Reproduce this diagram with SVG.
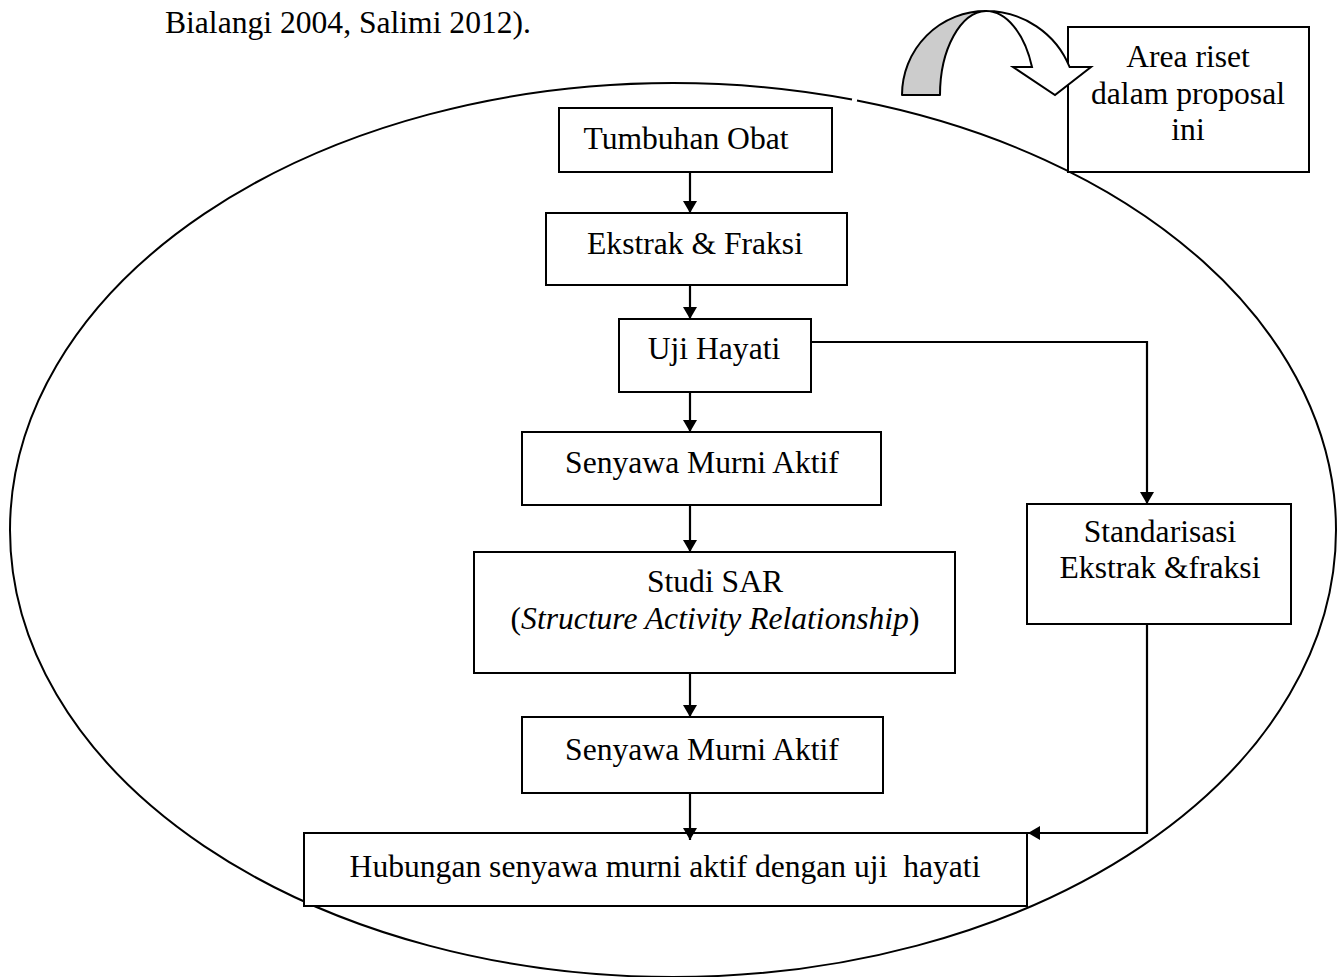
<svg xmlns="http://www.w3.org/2000/svg" width="1337" height="977" viewBox="0 0 1337 977">
<style>
text{font-family:"Liberation Serif","Times New Roman",serif;font-size:31.6px;fill:#000}
.c{text-anchor:middle}
.box{fill:#fff;stroke:#000;stroke-width:2}
.ln{fill:none;stroke:#000;stroke-width:2}
.cn{fill:none;stroke:#000;stroke-width:2.2;marker-end:url(#ah)}
</style>
<defs>
<marker id="ah" viewBox="0 0 12 14" refX="12" refY="7" markerWidth="12" markerHeight="14" orient="auto" markerUnits="userSpaceOnUse">
<path d="M0,0 L12,7 L0,14 Z" fill="#000"/>
</marker>
</defs>
<rect width="1337" height="977" fill="#fff"/>
<text x="165" y="33">Bialangi 2004, Salimi 2012).</text>
<g id="ellipse">
<path class="ln" d="M857 100.56 A663 447 0 0 1 1336 530 A663 447 0 0 1 673 977 A663 447 0 0 1 10 530 A663 447 0 0 1 673 83 A663 447 0 0 1 852 99.6"/>
</g>
<g id="area-riset">
<rect class="box" x="1068" y="27" width="241" height="145"/>
<text class="c" x="1188" y="67">Area riset</text>
<text class="c" x="1188" y="104">dalam proposal</text>
<text class="c" x="1188" y="140">ini</text>
</g>
<g id="curved-arrow">
<path d="M902 95 A84 84 0 0 1 986 11 A47 84 0 0 0 940 95 Z" fill="#cccccc" stroke="#000" stroke-width="2" stroke-linejoin="round"/>
<path d="M986 11 A90 89 0 0 1 1069.6 67 L1091 67 L1055 95 L1013 67 L1032 67 A49.5 89 0 0 0 986 11 Z" fill="#fff" stroke="#000" stroke-width="2" stroke-linejoin="miter"/>
</g>
<g id="connectors">
<path class="cn" d="M690 172 V213"/>
<path class="cn" d="M690 278 V319"/>
<path class="cn" d="M690 385 V432"/>
<path class="cn" d="M690 505 V552"/>
<path class="cn" d="M690 673 V717"/>
<path class="cn" d="M811 342 H1147 V504"/>
<path class="cn" d="M1147 617 V833 H1028"/>
</g>
<g id="tumbuhan-obat">
<rect class="box" x="559" y="108" width="273" height="64"/>
<text class="c" x="686" y="149">Tumbuhan Obat</text>
</g>
<g id="ekstrak-fraksi">
<rect class="box" x="546" y="213" width="301" height="72"/>
<text class="c" x="695" y="254">Ekstrak &amp; Fraksi</text>
</g>
<g id="uji-hayati">
<rect class="box" x="619" y="319" width="192" height="73"/>
<text class="c" x="714" y="359">Uji Hayati</text>
</g>
<g id="senyawa-1">
<rect class="box" x="522" y="432" width="359" height="73"/>
<text class="c" x="702" y="473">Senyawa Murni Aktif</text>
</g>
<g id="studi-sar">
<rect class="box" x="474" y="552" width="481" height="121"/>
<text class="c" x="715" y="592">Studi SAR</text>
<text class="c" x="715" y="629">(<tspan font-style="italic">Structure Activity Relationship</tspan>)</text>
</g>
<g id="senyawa-2">
<rect class="box" x="522" y="717" width="361" height="76"/>
<text class="c" x="702" y="760">Senyawa Murni Aktif</text>
</g>
<g id="standarisasi">
<rect class="box" x="1027" y="504" width="264" height="120"/>
<text class="c" x="1160" y="542">Standarisasi</text>
<text class="c" x="1160" y="578">Ekstrak &amp;fraksi</text>
</g>
<g id="hubungan">
<rect class="box" x="304" y="833" width="723" height="73"/>
<text class="c" x="665" y="877" xml:space="preserve">Hubungan senyawa murni aktif dengan uji  hayati</text>
</g>
<g id="connectors-top">
<path class="cn" d="M690 793 V840"/>
</g>
</svg>
